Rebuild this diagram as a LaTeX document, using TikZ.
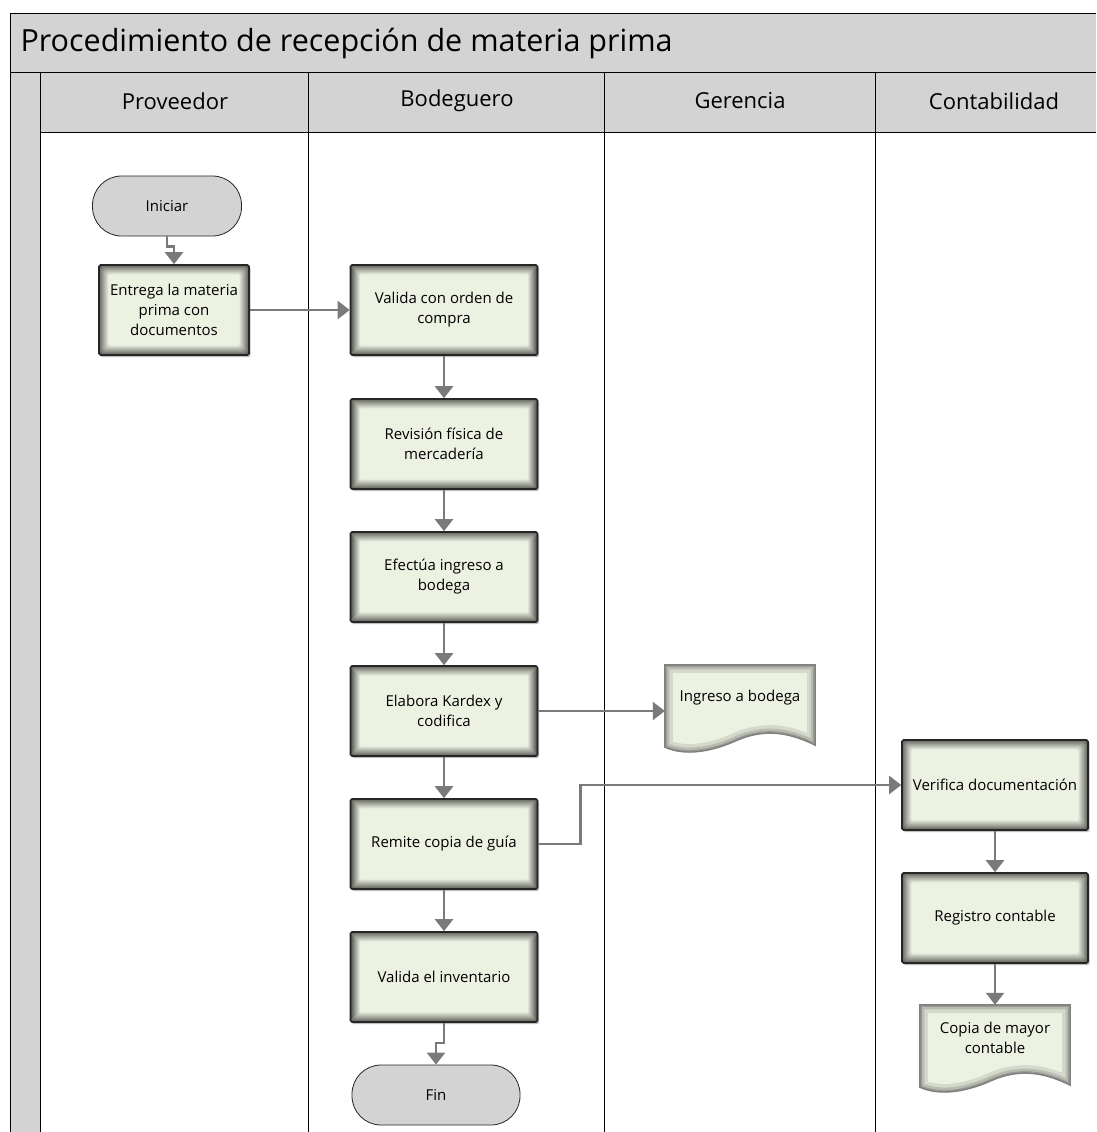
\documentclass[tikz,border=0pt]{standalone}
\usepackage{fontspec}
\setmainfont{Open Sans}
\usetikzlibrary{arrows.meta,shadows}
\definecolor{boxfill}{RGB}{236,241,226}
\definecolor{bandgray}{RGB}{211,211,211}
\definecolor{conngray}{RGB}{122,122,122}
\newcommand\docp[1]{(#1.north west) -- (#1.north east) -- (#1.south east)
  .. controls ([xshift=-28pt,yshift=14pt]#1.south east) and ([xshift=-52pt,yshift=16pt]#1.south east) .. ([xshift=-78pt,yshift=5pt]#1.south east)
  .. controls ([xshift=-100pt,yshift=-5pt]#1.south east) and ([xshift=-128pt,yshift=-12pt]#1.south east) .. ([yshift=-2pt]#1.south west) -- cycle}
\newcommand\docshape[1]{%
  \fill[black,opacity=0.18,shift={(1.5pt,-2pt)}] \docp{#1};
  \fill[boxfill] \docp{#1};
  \begin{scope}
    \clip \docp{#1};
    \draw[line width=16pt,boxfill!90!black] \docp{#1};
    \draw[line width=9pt,boxfill!78!black] \docp{#1};
    \draw[line width=4pt,boxfill!64!black] \docp{#1};
  \end{scope}
  \draw[line width=1.4pt,black!50] \docp{#1};
}
\tikzset{
  lane/.style={line width=0.9pt,black},
  proc/.style={rectangle, minimum width=187pt, minimum height=90pt, inner sep=2pt,
    draw=black!85, line width=1.6pt, rounded corners=1.5pt, fill=boxfill, align=center,
    font=\fontsize{15}{20}\selectfont,
    drop shadow={shadow xshift=1.5pt,shadow yshift=-2pt,opacity=0.25,fill=black},
    path picture={\foreach \i in {1,...,10}{\pgfmathtruncatemacro\p{30+7*\i}
      \draw[line width=1.2pt, boxfill!\p!black] ([shift={(\i pt,\i pt)}]path picture bounding box.south west) rectangle ([shift={(-\i pt,-\i pt)}]path picture bounding box.north east);}}},
  term/.style={rectangle, rounded corners=29pt, minimum height=60pt, fill=bandgray,
    draw=black!85, line width=0.8pt, font=\fontsize{15}{20}\selectfont},
  docnode/.style={rectangle, minimum width=150pt, minimum height=80pt, inner sep=0pt, align=center,
    font=\fontsize{15}{20}\selectfont},
  conn/.style={draw=conngray, line width=2.4pt, -{Triangle[width=18pt,length=12pt]}},
  lanehead/.style={font=\fontsize{22}{26}\selectfont, anchor=center},
}
\begin{document}
\begin{tikzpicture}[x=1pt,y=-1pt]
\useasboundingbox (0,0) rectangle (1096,1132);
% bands
\fill[bandgray] (10,13) rectangle (1096,72);
\fill[bandgray] (40,72) rectangle (1096,132);
\fill[bandgray] (10,72) rectangle (40,1132);
\draw[lane] (1096,13) -- (10,13) -- (10,1132);
\draw[lane] (10,72) -- (1096,72);
\draw[lane] (40,132) -- (1096,132);
\draw[lane] (40,72) -- (40,1132);
\draw[lane] (308,72) -- (308,1132);
\draw[lane] (604,72) -- (604,1132);
\draw[lane] (875,72) -- (875,1132);
% title and headers
\node[anchor=west, font=\fontsize{30.5}{36}\selectfont] (title) at (17,43) {Procedimiento de recepción de materia prima};
\node[lanehead] (h1) at (175,101) {Proveedor};
\node[lanehead] (h2) at (457,101) {Bodeguero};
\node[lanehead] (h3) at (740,101) {Gerencia};
\node[lanehead] (h4) at (994,101) {Contabilidad};
% nodes
\node[term, minimum width=149pt] (ini) at (167,206) {Iniciar};
\node[proc, minimum width=150pt] (ent) at (174,310) {Entrega la materia\\prima con\\documentos};
\node[proc] (val) at (444,310) {Valida con orden de\\compra};
\node[proc] (rev) at (444,444) {Revisión física de\\mercadería};
\node[proc] (efe) at (444,577) {Efectúa ingreso a\\bodega};
\node[proc] (ela) at (444,711) {Elabora Kardex y\\codifica};
\node[proc] (rem) at (444,844) {Remite copia de guía};
\node[proc] (inv) at (444,977) {Valida el inventario};
\node[term, minimum width=168pt] (fin) at (436,1095) {Fin};
\node[proc, minimum width=186pt] (ver) at (995,785) {Verifica documentación};
\node[proc, minimum width=186pt] (reg) at (995,918) {Registro contable};
\node[docnode] (ing) at (740,705) {};
\docshape{ing}
\node[docnode] (ingt) at (740,698) {Ingreso a bodega};
\node[docnode] (cop) at (995,1045) {};
\docshape{cop}
\node[docnode] (copt) at (995,1038) {Copia de mayor\\contable};
% connectors
\draw[conn] (ini.south) -- ++(0,10) -| (ent.north);
\draw[conn] (ent.east) -- (val.west);
\draw[conn] (val.south) -- (rev.north);
\draw[conn] (rev.south) -- (efe.north);
\draw[conn] (efe.south) -- (ela.north);
\draw[conn] (ela.south) -- (rem.north);
\draw[conn] (rem.south) -- (inv.north);
\draw[conn] (inv.south) -- ++(0,20) -| (fin.north);
\draw[conn] (ela.east) -- (ela.east -| ing.west);
\draw[conn] (rem.east) -- ++(42,0) |- (ver.west);
\draw[conn] (ver.south) -- (reg.north);
\draw[conn] (reg.south) -- (cop.north);
\end{tikzpicture}
\end{document}
